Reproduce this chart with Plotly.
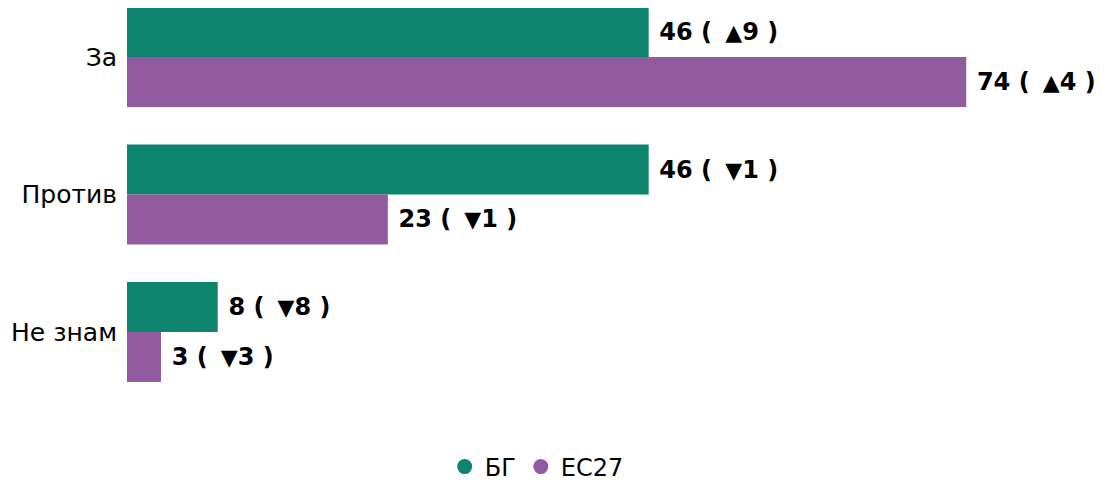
import plotly.graph_objects as go

categories = ["За", "Против", "Не знам"]
bg_values = [46, 46, 8]
eu_values = [74, 23, 3]
bg_delta = [9, -1, -8]
eu_delta = [4, -1, -3]
series_names = ["БГ", "ЕС27"]

GREEN = "#0e836d"
PURPLE = "#935b9f"
FONT = "DejaVu Sans"


def label(v, d):
    tri = "▲" if d > 0 else "▼"
    return (f"\u00a0<b>{v} (\u00a0\u2009<span style='font-size:22px'>{tri}</span>{abs(d)}\u00a0)</b>")


fig = go.Figure()
for name, vals, deltas, color in [
    (series_names[0], bg_values, bg_delta, GREEN),
    (series_names[1], eu_values, eu_delta, PURPLE),
]:
    fig.add_trace(go.Bar(
        y=categories, x=vals, orientation="h", name=name,
        marker=dict(color=color, line=dict(width=0)),
        text=[label(v, d) for v, d in zip(vals, deltas)],
        textposition="outside", cliponaxis=False,
        textfont=dict(family=FONT, size=24, color="#000000"),
        hoverinfo="skip", showlegend=False,
    ))
    fig.add_trace(go.Scatter(
        x=[None], y=[None], mode="markers", name=name,
        marker=dict(color=color, size=15, symbol="circle"),
        showlegend=True,
    ))

fig.update_layout(
    width=1099, height=475,
    margin=dict(l=119, r=16, t=0, b=75, autoexpand=False),
    barmode="group", bargap=0.273, bargroupgap=0,
    plot_bgcolor="white", paper_bgcolor="white",
    font=dict(family=FONT, size=24, color="#000000"),
    showlegend=True,
    legend=dict(orientation="h", x=0.425, xanchor="center", y=-0.1475,
                yanchor="middle", font=dict(size=24, family=FONT),
                itemwidth=30, tracegroupgap=0),
)
fig.update_xaxes(range=[0, 85], showgrid=False, zeroline=False,
                 showticklabels=False, showline=False)
fig.update_yaxes(type="category", range=[2.5527, -0.3564], showgrid=False,
                 zeroline=False, showline=False, ticks="",
                 ticklabelstandoff=9, automargin=False,
                 tickfont=dict(family=FONT, size=25, color="#000000"))

fig.write_html("out.html")
